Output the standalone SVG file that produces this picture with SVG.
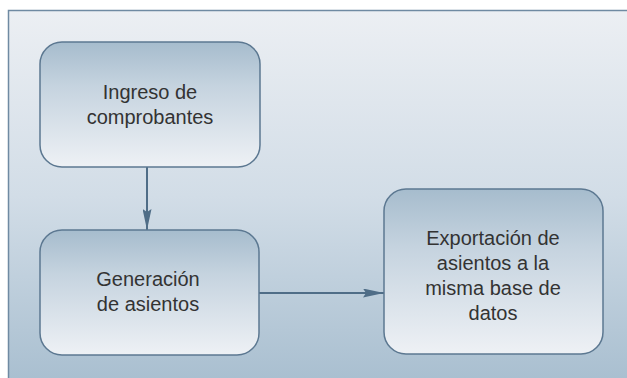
<svg xmlns="http://www.w3.org/2000/svg" width="627" height="378" viewBox="0 0 627 378">
<defs>
<linearGradient id="bg" x1="0" y1="0" x2="0" y2="1">
<stop offset="0" stop-color="#eceff3"/>
<stop offset="0.5" stop-color="#d2dde7"/>
<stop offset="1" stop-color="#a9bfd0"/>
</linearGradient>
<linearGradient id="nodeFill" x1="0" y1="0" x2="0" y2="1">
<stop offset="0" stop-color="#a6bccd"/>
<stop offset="0.35" stop-color="#c5d3df"/>
<stop offset="1" stop-color="#eef1f5"/>
</linearGradient>
<marker id="arrow" markerWidth="10" markerHeight="10" viewBox="0 0 10 10" refX="10" refY="5" orient="auto" markerUnits="userSpaceOnUse">
<path d="M0,0 L10,5 L0,10 L2,5 z" fill="#4f6d87"/>
</marker>
<marker id="arrowBig" markerWidth="21" markerHeight="9" viewBox="0 0 21 9" refX="21" refY="4.5" orient="auto" markerUnits="userSpaceOnUse">
<path d="M0,0 L21,4.5 L0,9 L3,4.5 z" fill="#4f6d87"/>
</marker>
</defs>
<style>
.node rect{fill:url(#nodeFill);stroke:#5c7891;stroke-width:1.5}
.node text{font-family:"Liberation Sans",Arial,sans-serif;font-size:20px;fill:#333333;text-anchor:middle}
.edge{stroke:#4f6d87;stroke-width:2;fill:none;marker-end:url(#arrowBig)}
</style>
<rect x="0" y="0" width="627" height="378" fill="#ffffff"/>
<rect x="8.5" y="10.5" width="620" height="370" fill="url(#bg)"/>
<path d="M8.5,378 L8.5,10.5 L627,10.5" fill="none" stroke="#6f8aa2" stroke-width="1.5"/>
<g id="connectors">
<path class="edge" d="M147,167 L147,230"/>
<path class="edge" d="M259,293 L384,293"/>
</g>
<g id="node-ingreso" class="node">
<rect x="40" y="42" width="220" height="125" rx="22" ry="22"/>
<text x="150" y="99">Ingreso de</text>
<text x="150" y="124">comprobantes</text>
</g>
<g id="node-generacion" class="node">
<rect x="40" y="230" width="219" height="125" rx="22" ry="22"/>
<text x="148" y="286">Generación</text>
<text x="148" y="311">de asientos</text>
</g>
<g id="node-exportacion" class="node">
<rect x="384" y="189" width="219" height="165" rx="22" ry="22"/>
<text x="493" y="245">Exportación de</text>
<text x="493" y="270">asientos a la</text>
<text x="493" y="295">misma base de</text>
<text x="493" y="320">datos</text>
</g>
</svg>
